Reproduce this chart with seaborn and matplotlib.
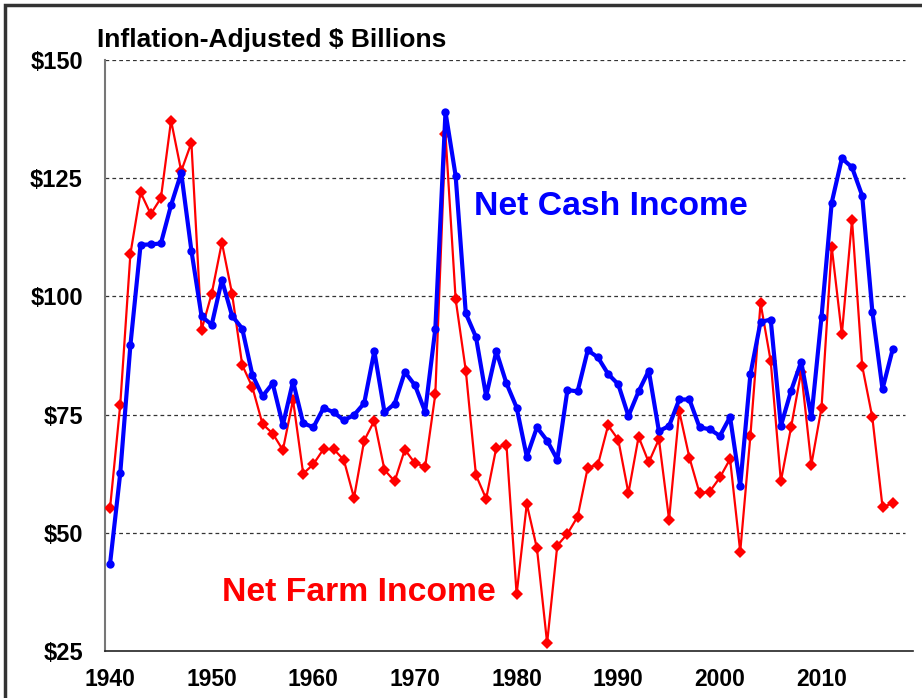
import numpy as np
import pandas as pd
import matplotlib
matplotlib.use('Agg')
import matplotlib.pyplot as plt
import seaborn as sns
from matplotlib.patches import Rectangle
from matplotlib.ticker import FixedLocator

years = np.arange(1940, 2018)
net_cash = [43.5, 62.6, 89.7, 110.9, 111.0, 111.2, 119.3, 126.1, 109.7, 95.8,
            94.0, 103.5, 95.9, 93.2, 83.4, 78.9, 81.6, 72.8, 82.0, 73.2,
            72.3, 76.4, 75.5, 73.8, 74.9, 77.4, 88.4, 75.5, 77.3, 84.0,
            81.2, 75.6, 93.1, 139.0, 125.5, 96.4, 91.4, 78.9, 88.4, 81.6,
            76.5, 66.1, 72.3, 69.5, 65.5, 80.2, 79.9, 88.6, 87.1, 83.6,
            81.4, 74.7, 79.9, 84.3, 71.5, 72.6, 78.2, 78.2, 72.3, 71.9,
            70.5, 74.5, 60.0, 83.5, 94.6, 95.1, 72.6, 80.0, 86.2, 74.4,
            95.7, 119.8, 129.2, 127.3, 121.3, 96.8, 80.4, 88.8]
net_farm = [55.3, 77.1, 109.0, 122.0, 117.4, 120.8, 137.2, 126.5, 132.5, 92.9,
            100.6, 111.4, 100.6, 85.5, 80.8, 73.0, 71.0, 67.5, 78.1, 62.5,
            64.5, 67.7, 67.7, 65.4, 57.4, 69.5, 73.7, 63.3, 60.9, 67.6,
            64.7, 64.0, 79.3, 134.3, 99.4, 84.3, 62.2, 57.2, 68.0, 68.6,
            37.0, 56.1, 46.7, 26.7, 47.3, 49.8, 53.4, 63.8, 64.4, 72.7,
            69.7, 58.4, 70.3, 64.9, 69.8, 52.8, 75.7, 65.9, 58.4, 58.7,
            61.7, 65.6, 46.0, 70.5, 98.6, 86.3, 60.9, 72.3, 84.1, 64.4,
            76.5, 110.5, 92.0, 116.2, 85.3, 74.4, 55.5, 56.2]
y_ticks = [25, 50, 75, 100, 125, 150]
y_labels = ['$25', '$50', '$75', '$100', '$125', '$150']
x_labels = [1940, 1950, 1960, 1970, 1980, 1990, 2000, 2010]

df = pd.DataFrame({'year': years, 'cash': net_cash, 'farm': net_farm})

sns.set_style('white')
plt.rcParams['font.family'] = ['Liberation Sans', 'DejaVu Sans']
plt.rcParams['text.color'] = 'black'

fig = plt.figure(figsize=(9.22, 6.98), dpi=100)
ax = fig.add_axes([105 / 922, 1 - 651 / 698, 808 / 922, 591 / 698])

for y in y_ticks[1:]:
    ax.axhline(y, color='#333333', lw=0.9, ls=(0, (3, 2.5)), xmax=800 / 808, zorder=0)

sns.lineplot(data=df, x='year', y='farm', ax=ax, color='#ff0000', lw=1.6,
             marker='D', markersize=6.5, markeredgewidth=0, zorder=3)
sns.lineplot(data=df, x='year', y='cash', ax=ax, color='#0000ff', lw=3,
             marker='o', markersize=6, markeredgewidth=0, zorder=4)

ax.set_xlim(1939.5, 2019)
ax.set_ylim(25, 150)
ax.set_xlabel('')
ax.set_ylabel('')

ax.set_yticks(y_ticks)
ax.set_yticklabels(y_labels, fontsize=17, fontweight='bold')
ax.tick_params(axis='y', length=7, width=1, color='#555555', labelcolor='black',
               direction='out', pad=9)

ax.xaxis.set_major_locator(FixedLocator(x_labels))
ax.set_xticklabels([str(v) for v in x_labels], fontsize=16.5, fontweight='bold')
ax.xaxis.set_minor_locator(FixedLocator(np.arange(1939.5, 2018, 5)))
ax.tick_params(axis='x', which='major', length=0, pad=12, labelcolor='black')
ax.tick_params(axis='x', which='minor', length=10, width=1, direction='inout', color='#222222')

for s in ['top', 'right']:
    ax.spines[s].set_visible(False)
ax.spines['left'].set_color('#777777')
ax.spines['left'].set_linewidth(1.5)
ax.spines['bottom'].set_color('#222222')
ax.spines['bottom'].set_linewidth(1.2)

fig.text(97 / 922, 1 - 47 / 698, 'Inflation-Adjusted $ Billions', fontsize=19,
         fontweight='bold', va='baseline', ha='left')
fig.text(474 / 922, 1 - 215 / 698, 'Net Cash Income', fontsize=24.3, fontweight='bold',
         color='#0000ff', va='baseline', ha='left')
fig.text(222 / 922, 1 - 601 / 698, 'Net Farm Income', fontsize=24.3, fontweight='bold',
         color='#ff0000', va='baseline', ha='left')

fig.patches.append(Rectangle((5 / 922, -0.05), 1.2, 1.05 - 5 / 698, transform=fig.transFigure,
                             fill=False, edgecolor='#333333', lw=2.5))

fig.savefig('out.png', dpi=100)
